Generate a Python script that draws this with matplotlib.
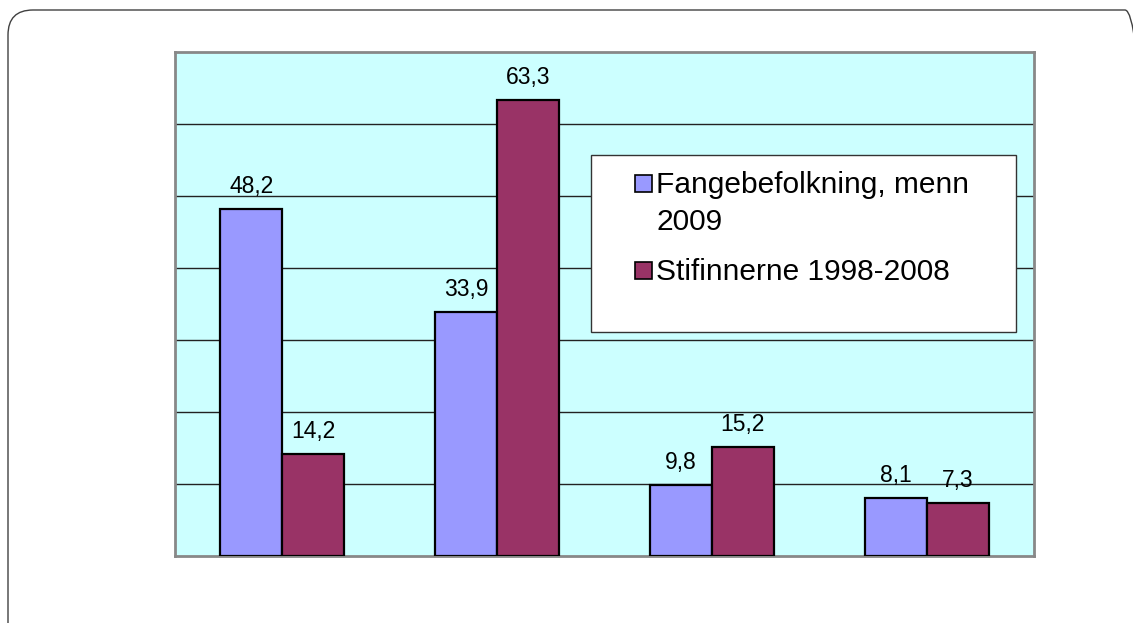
import matplotlib
matplotlib.use("Agg")
import matplotlib.pyplot as plt
import numpy as np
from matplotlib.patches import FancyBboxPatch, Rectangle
from matplotlib.transforms import IdentityTransform

plt.rcParams['font.family'] = ['Liberation Sans', 'DejaVu Sans']

categories = ["1", "2", "3", "4"]
series_names = ["Fangebefolkning, menn\n2009", "Stifinnerne 1998-2008"]
fange = [48.2, 33.9, 9.8, 8.1]
stifinnerne = [14.2, 63.3, 15.2, 7.3]
value_labels_fange = ["48,2", "33,9", "9,8", "8,1"]
value_labels_stif = ["14,2", "63,3", "15,2", "7,3"]

W, H = 1133, 623
fig = plt.figure(figsize=(W / 100, H / 100), dpi=100)
fig.patch.set_facecolor('white')

def px(x, y):
    return (x, H - y)

# outer rounded frame
frame = FancyBboxPatch(px(8, 650), 1150 - 8, 640, boxstyle="round,pad=0,rounding_size=25",
                       transform=IdentityTransform(), facecolor='none', edgecolor='#404040',
                       linewidth=1.0, zorder=0, clip_on=False)
fig.patches.append(frame)

ax = fig.add_axes([175 / W, 1 - 556 / H, (1034 - 175) / W, (556 - 52) / H])
ax.set_facecolor('#CCFFFF')
for s in ax.spines.values():
    s.set_color('#888888')
    s.set_linewidth(2.0)

x = np.arange(len(categories))
bw = 0.289
b1 = ax.bar(x - bw / 2, fange, bw, color='#9999FF', edgecolor='black', linewidth=1.6, zorder=3)
b2 = ax.bar(x + bw / 2, stifinnerne, bw, color='#993366', edgecolor='black', linewidth=1.6, zorder=3)

ax.set_xlim(-0.5, len(categories) - 0.5)
ax.set_ylim(0, 70)
ax.set_yticks(np.arange(10, 70, 10))
ax.set_xticks([])
ax.yaxis.grid(True, color='#222222', linewidth=1.0, zorder=1)
ax.set_axisbelow(True)
ax.tick_params(axis='y', length=0, labelleft=False)

for rect, lab in zip(list(b1) + list(b2), value_labels_fange + value_labels_stif):
    ax.annotate(lab, (rect.get_x() + rect.get_width() / 2, rect.get_height()),
                xytext=(0, 11.5), textcoords='offset points', ha='center', va='baseline',
                fontsize=16.5, color='black', zorder=5)

# legend box
lx0, ly0, lx1, ly1 = 591, 155, 1016, 332
fig.patches.append(Rectangle(px(lx0, ly1), lx1 - lx0, ly1 - ly0, transform=IdentityTransform(),
                             facecolor='white', edgecolor='#333333', linewidth=1.0, zorder=10))
colors = ['#9999FF', '#993366']
sq_tops = [175, 262]
for c, t in zip(colors, sq_tops):
    fig.patches.append(Rectangle(px(635, t + 17), 17, 17, transform=IdentityTransform(),
                                 facecolor=c, edgecolor='black', linewidth=1.2, zorder=11))
fig.text(656 / W, 1 - 193 / H, "Fangebefolkning, menn", fontsize=21.5, va='baseline', ha='left', zorder=12)
fig.text(656 / W, 1 - 230 / H, "2009", fontsize=21.5, va='baseline', ha='left', zorder=12)
fig.text(656 / W, 1 - 280 / H, "Stifinnerne 1998-2008", fontsize=21.5, va='baseline', ha='left', zorder=12)

fig.savefig("out.png", dpi=100)
